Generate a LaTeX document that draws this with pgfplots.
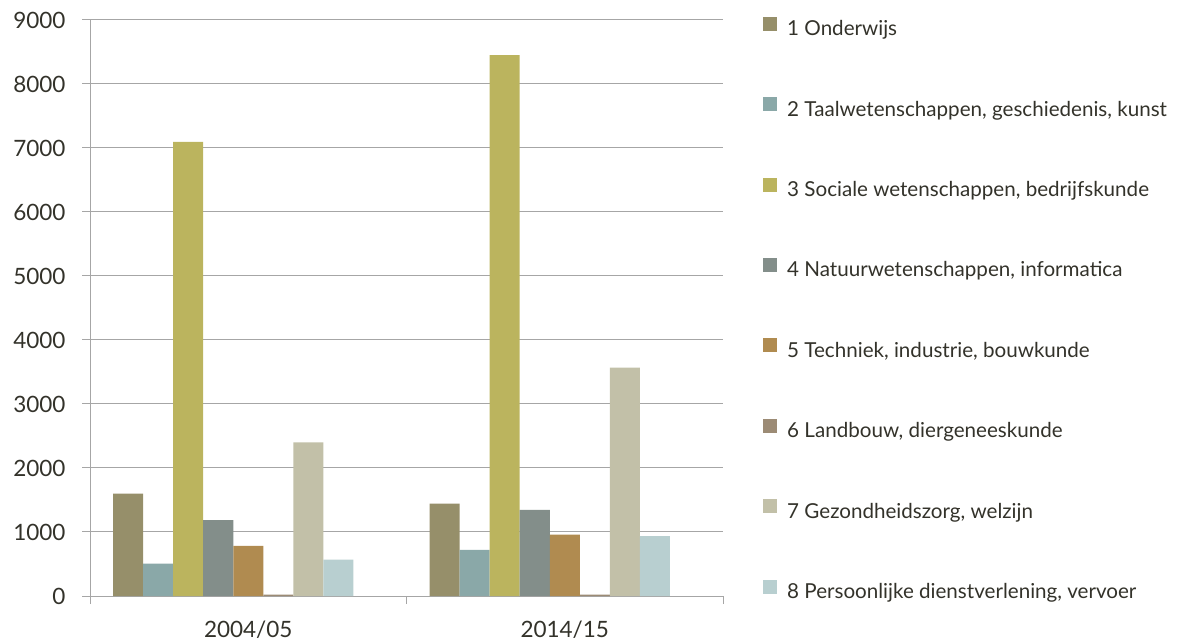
\documentclass[border=0pt]{standalone}
\usepackage{pgfplots}
\pgfplotsset{compat=1.18}
\usepackage{fontspec}
\setmainfont{Lato}

\definecolor{c1}{HTML}{968F6A}
\definecolor{c2}{HTML}{8AA8A8}
\definecolor{c3}{HTML}{BBB45E}
\definecolor{c4}{HTML}{838E8A}
\definecolor{c5}{HTML}{B08B50}
\definecolor{c6}{HTML}{9C8B75}
\definecolor{c7}{HTML}{C2C0A8}
\definecolor{c8}{HTML}{B8CFD0}
\definecolor{gridgray}{HTML}{A6A6A6}
\definecolor{txt}{HTML}{33322A}

\begin{document}
\begin{tikzpicture}
\useasboundingbox (0pt,0pt) rectangle (1177pt,642pt);
\begin{axis}[
  at={(90pt,46pt)}, anchor=south west,
  scale only axis, width=633pt, height=576pt,
  xmin=-0.5, xmax=1.5, ymin=0, ymax=9000,
  axis x line=bottom, axis y line=left,
  axis line style={draw=gridgray, line width=1pt, -},
  ymajorgrids, grid style={draw=gridgray, line width=1pt},
  ytick={0,1000,...,9000},
  tick align=outside, major tick length=8pt,
  ytick style={draw=gridgray, line width=1pt},
  xtick={0,1}, xticklabels={2004/05,2014/15},
  xtick style={draw=none},
  extra x ticks={-0.5,0.5,1.5}, extra x tick labels={},
  extra x tick style={xtick style={draw=gridgray, line width=1pt}, grid=none},
  tick label style={font=\fontsize{22.5}{26}\selectfont, text=txt},
  /pgf/number format/assume math mode=true,
  /pgf/number format/1000 sep={},
  yticklabel style={xshift=-13pt},
  xticklabel style={yshift=-13pt},
  ybar, bar width=0.0948,
  legend cell align=left,
  legend image code/.code={\fill[#1] (0pt,0pt) rectangle (14pt,14pt);},
  legend style={at={(1.0632,1.006)}, anchor=north west, draw=none, fill=none,
    inner sep=0pt, row sep=57.4pt, column sep=10pt,
    font=\fontsize{20.6}{24}\selectfont, text=txt,
    nodes={inner sep=0pt, text height=14pt, text depth=4pt}},
]
% Nine slots per year; the ninth slot stays empty
\addplot[fill=c1, draw=none, bar shift=-0.3792] coordinates {(0,1600) (1,1445)};
\addplot[fill=c2, draw=none, bar shift=-0.2844] coordinates {(0,505) (1,720)};
\addplot[fill=c3, draw=none, bar shift=-0.1896] coordinates {(0,7095) (1,8453)};
\addplot[fill=c4, draw=none, bar shift=-0.0948] coordinates {(0,1184) (1,1346)};
\addplot[fill=c5, draw=none, bar shift=0] coordinates {(0,782) (1,960)};
\addplot[fill=c6, draw=none, bar shift=0.0948] coordinates {(0,20) (1,20)};
\addplot[fill=c7, draw=none, bar shift=0.1896] coordinates {(0,2400) (1,3570)};
\addplot[fill=c8, draw=none, bar shift=0.2844] coordinates {(0,569) (1,934)};
\legend{1 Onderwijs,
  {2 Taalwetenschappen, geschiedenis, kunst},
  {3 Sociale wetenschappen, bedrijfskunde},
  {4 Natuurwetenschappen, informatica},
  {5 Techniek, industrie, bouwkunde},
  {6 Landbouw, diergeneeskunde},
  {7 Gezondheidszorg, welzijn},
  {8 Persoonlijke dienstverlening, vervoer}}
\end{axis}
\end{tikzpicture}
\end{document}
